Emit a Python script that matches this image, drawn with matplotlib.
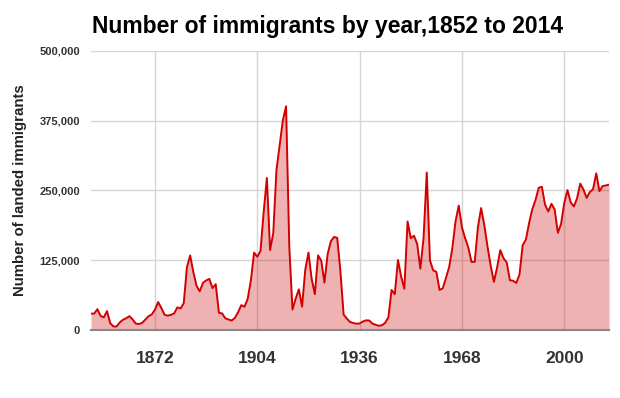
import matplotlib.pyplot as plt
from matplotlib.ticker import FuncFormatter

plt.rcParams['font.family'] = ['Liberation Sans', 'DejaVu Sans']

# Landed immigrants per year, 1852-2014
years = list(range(1852, 2015))
immigrants = [
    29307, 29464, 37263, 25296, 22544, 33854, 12339, 6300, 6276, 13589,
    18294, 21000, 24779, 18958, 11427, 10666, 12765, 18630, 24706, 27773,
    36578, 50050, 39373, 27382, 25633, 27082, 29807, 40492, 38505, 47991,
    112458, 133624, 103824, 79169, 69152, 84526, 88766, 91600, 75067, 82165,
    30996, 29633, 20829, 18790, 16835, 21716, 31900, 44543, 41681, 55747,
    89102, 138660, 131252, 141465, 211653, 272409, 143326, 173694, 286839, 331288,
    375756, 400870, 150484, 36665, 55914, 72910, 41845, 107698, 138824, 91728,
    64224, 133729, 124164, 84907, 135982, 158886, 166783, 164993, 104806, 27530,
    20591, 14382, 12476, 11277, 11643, 15101, 17244, 16994, 11324, 9329,
    7576, 8504, 12801, 22722, 71719, 64127, 125414, 95217, 73912, 194391,
    164498, 168868, 154227, 109946, 164857, 282164, 124851, 106928, 104111, 71698,
    74586, 93151, 112606, 146758, 194743, 222876, 183974, 164531, 147713, 121900,
    122006, 184200, 218465, 187881, 149429, 114914, 86313, 112093, 143117, 128618,
    121147, 89157, 88239, 84302, 99219, 152098, 161929, 191555, 216452, 232744,
    254817, 256641, 224364, 212504, 226073, 216038, 174195, 189951, 227458, 250640,
    229048, 221349, 235823, 262242, 251640, 236753, 247246, 252172, 280691, 248749,
    257903, 259019, 260404,
]

x_ticks = [1872, 1904, 1936, 1968, 2000]
y_ticks = [0, 125000, 250000, 375000, 500000]

fig = plt.figure(figsize=(6.2, 3.98), dpi=100)
ax = fig.add_axes([0.1468, 0.1709, 0.8355, 0.701])

ax.fill_between(years, immigrants, 0, color='#cc0000', alpha=0.3, linewidth=0)
ax.plot(years, immigrants, color='#d40000', linewidth=1.4)

ax.set_xlim(1852, 2014)
ax.set_ylim(0, 500000)
ax.set_xticks(x_ticks)
ax.set_yticks(y_ticks)
ax.yaxis.set_major_formatter(FuncFormatter(lambda v, p: f'{int(v):,}'))

ax.grid(True, color='#d6d6d6', linewidth=1)
ax.set_axisbelow(True)
for s in ['top', 'right', 'left']:
    ax.spines[s].set_visible(False)
ax.spines['bottom'].set_color('#888888')
ax.spines['bottom'].set_linewidth(1.5)

ax.tick_params(axis='both', length=0)
ax.tick_params(axis='x', pad=15, labelsize=12.5, labelcolor='#333333')
ax.tick_params(axis='y', pad=8, labelsize=8, labelcolor='#333333')
for lab in ax.get_xticklabels() + ax.get_yticklabels():
    lab.set_fontweight('bold')

ax.set_ylabel('Number of landed immigrants', fontsize=10.8, fontweight='bold',
              color='#222222', labelpad=9)

fig.text(0.149, 0.917, 'Number of immigrants by year,1852 to 2014',
         fontsize=16.5, fontweight='bold', color='#000000', va='baseline', ha='left')

fig.savefig('out.png', dpi=100)
